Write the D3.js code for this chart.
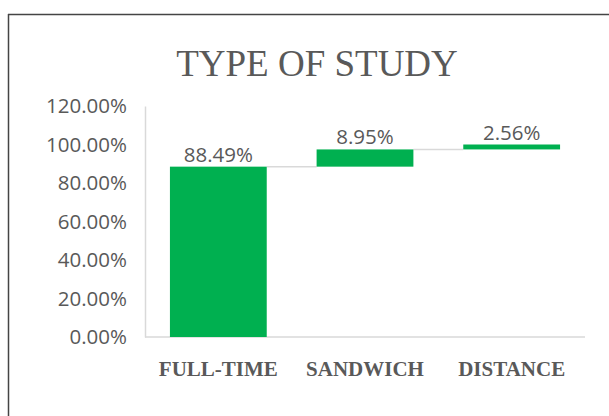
<!DOCTYPE html>
<html>
<head>
<script src="https://cdn.jsdelivr.net/npm/d3@7"></script>
<style>
body{ margin:0; background:white; }
</style>
</head>
<body>
<div id="chart"></div>
<script>
var categories = ['FULL-TIME','SANDWICH','DISTANCE'];
var values = [88.49, 8.95, 2.56];
var yTicks = [0,20,40,60,80,100,120];

var W = 609, H = 416;
var margin = {left:145, right:24, top:106, bottom:79};

var svg = d3.select('#chart').append('svg')
	.attr('width',W)
	.attr('height',H);

// outer frame (top + left only visible)
svg.append('line').attr('x1',8).attr('x2',W).attr('y1',14.5).attr('y2',14.5)
	.attr('stroke','#444').attr('stroke-width',1.5);
svg.append('line').attr('x1',8.5).attr('x2',8.5).attr('y1',14).attr('y2',H)
	.attr('stroke','#444').attr('stroke-width',1.5);

svg.append('text')
	.attr('x',317).attr('y',76)
	.attr('text-anchor','middle')
	.style('font-family','"Liberation Serif", "DejaVu Serif", serif')
	.style('font-size','37px')
	.attr('fill','#595959')
	.text('TYPE OF STUDY');

var x = d3.scaleBand().domain(categories)
	.range([margin.left, W - margin.right])
	.paddingInner(0.34).paddingOuter(0.17);
var y = d3.scaleLinear().domain([0,120]).range([H - margin.bottom, margin.top]);

// waterfall steps
var steps = [];
var run = 0;
values.forEach(function(v,i){
	steps.push({cat:categories[i], start:run, end:run+v, v:v});
	run += v;
});

// y axis
var yAxis = svg.append('g')
	.attr('transform','translate('+margin.left+',0)')
	.call(d3.axisLeft(y).tickValues(yTicks).tickSize(0).tickPadding(18)
		.tickFormat(function(d){ return d.toFixed(2)+'%'; }));
yAxis.select('.domain').attr('stroke','#d9d9d9').attr('stroke-width',1.5);
yAxis.selectAll('text')
	.style('font-family','"Open Sans", "Noto Sans", sans-serif')
	.style('font-size','20.5px')
	.attr('fill','#595959');

// baseline
svg.append('line')
	.attr('x1',margin.left).attr('x2',W - margin.right)
	.attr('y1',y(0)).attr('y2',y(0))
	.attr('stroke','#d9d9d9').attr('stroke-width',1.5);

// connectors
for(var i=0;i<steps.length-1;i++){
	svg.append('line')
		.attr('x1',x(steps[i].cat)+x.bandwidth())
		.attr('x2',x(steps[i+1].cat))
		.attr('y1',y(steps[i].end)).attr('y2',y(steps[i].end))
		.attr('stroke','#d9d9d9').attr('stroke-width',1.5);
}

svg.selectAll('rect.bar').data(steps).enter().append('rect')
	.attr('class','bar')
	.attr('x',function(d){ return x(d.cat); })
	.attr('width',x.bandwidth())
	.attr('y',function(d){ return y(d.end); })
	.attr('height',function(d){ return y(d.start) - y(d.end); })
	.attr('fill','#00b050');

svg.selectAll('text.lbl').data(steps).enter().append('text')
	.attr('class','lbl')
	.attr('x',function(d){ return x(d.cat)+x.bandwidth()/2; })
	.attr('y',function(d){ return y(d.end) - 5; })
	.attr('text-anchor','middle')
	.style('font-family','"Open Sans", "Noto Sans", sans-serif')
	.style('font-size','20.5px')
	.attr('fill','#595959')
	.text(function(d){ return d.v.toFixed(2)+'%'; });

svg.selectAll('text.cat').data(categories).enter().append('text')
	.attr('class','cat')
	.attr('x',function(d){ return x(d)+x.bandwidth()/2; })
	.attr('y',376)
	.attr('text-anchor','middle')
	.style('font-family','"Liberation Serif", "DejaVu Serif", serif')
	.style('font-weight','bold')
	.style('font-size','21px')
	.attr('fill','#595959')
	.text(function(d){ return d; });
</script>
</body>
</html>
